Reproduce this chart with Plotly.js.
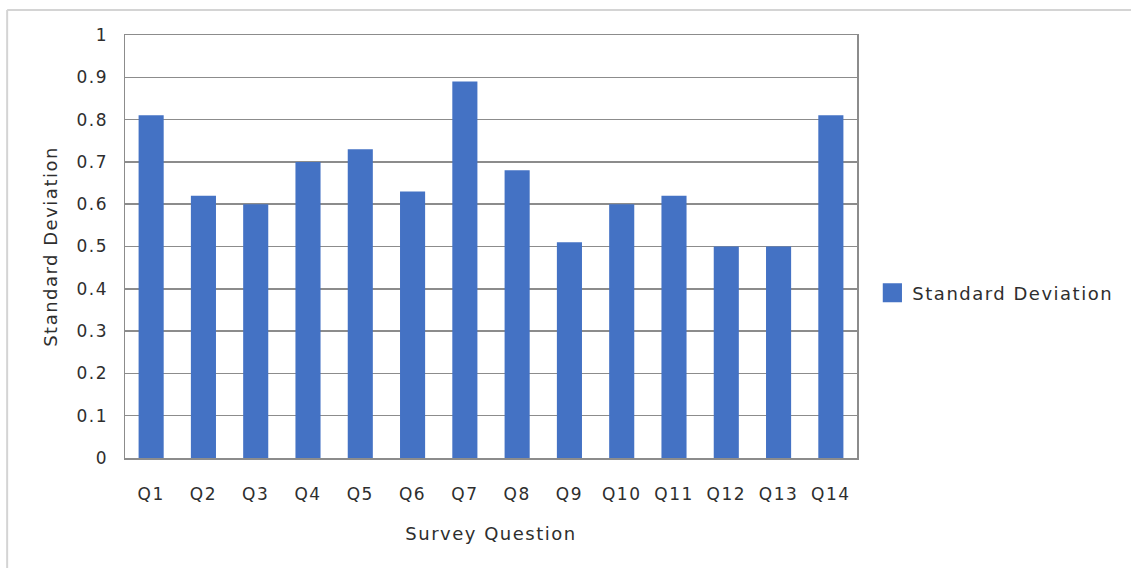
<!DOCTYPE html>
<html>
<head>
<meta charset="utf-8">
<script src="https://cdn.plot.ly/plotly-3.0.1.min.js"></script>
<style>
  html, body { margin: 0; padding: 0; background: #ffffff; }
  #chart { width: 1131px; height: 568px; }
  /* wide, airy lettering for all chart text (also used when text is measured) */
  svg text { letter-spacing: 1.5px; }
  /* larger legend swatch, kept at its slot position */
  #chart .legendpoints path { transform: translate(20px, 0px) scale(1.6); }
</style>
</head>
<body>
<div id="chart"></div>
<script>
// Survey questions and the standard deviation of responses for each
const questions = ["Q1", "Q2", "Q3", "Q4", "Q5", "Q6", "Q7", "Q8", "Q9", "Q10", "Q11", "Q12", "Q13", "Q14"];
const stdDev = [0.81, 0.62, 0.60, 0.70, 0.73, 0.63, 0.89, 0.68, 0.51, 0.60, 0.62, 0.50, 0.50, 0.81];
const yTicks = [0, 0.1, 0.2, 0.3, 0.4, 0.5, 0.6, 0.7, 0.8, 0.9, 1];
const yTickText = ["0", "0.1", "0.2", "0.3", "0.4", "0.5", "0.6", "0.7", "0.8", "0.9", "1"];

const fam = "DejaVu Sans, Noto Sans, sans-serif";
const textColor = "#2e2e2e";
const gridColor = "#8c8c8c";

const data = [{
  type: "bar",
  name: "Standard Deviation",
  x: questions,
  y: stdDev,
  marker: { color: "#4472C4", line: { width: 0 } },
  hoverinfo: "x+y"
}];

const layout = {
  width: 1131,
  height: 568,
  paper_bgcolor: "#ffffff",
  plot_bgcolor: "#ffffff",
  margin: { l: 125, r: 274, t: 35, b: 110, pad: 0 },
  font: { family: fam, size: 17, color: textColor },
  bargap: 0.52,
  showlegend: true,
  legend: {
    x: 1.021, y: 0.39, xanchor: "left", yanchor: "middle",
    font: { family: fam, size: 18, color: textColor },
    itemwidth: 30, tracegroupgap: 0
  },
  xaxis: {
    type: "category",
    showline: true, mirror: true, linecolor: gridColor, linewidth: 1.5,
    showgrid: false, ticks: "", ticklabelstandoff: 20,
    tickfont: { family: fam, size: 17, color: textColor },
    title: { text: "Survey Question", standoff: 24,
             font: { family: fam, size: 18, color: textColor } }
  },
  yaxis: {
    range: [0, 1],
    tickvals: yTicks, ticktext: yTickText,
    showline: true, mirror: true, linecolor: gridColor, linewidth: 1.5,
    showgrid: true, gridcolor: gridColor, gridwidth: 1.5,
    zeroline: false, ticks: "", ticklabelstandoff: 12,
    tickfont: { family: fam, size: 17, color: textColor },
    title: { text: "Standard Deviation", standoff: 14,
             font: { family: fam, size: 18, color: textColor } }
  },
  shapes: [
    // outer chart frame (left and top edges)
    { type: "line", xref: "paper", yref: "paper", x0: -0.161, x1: 1.4, y0: 1.059, y1: 1.059,
      line: { color: "#d4d4d4", width: 2 } },
    { type: "line", xref: "paper", yref: "paper", x0: -0.161, x1: -0.161, y0: 1.059, y1: -0.3,
      line: { color: "#d4d4d4", width: 2 } }
  ]
};

Plotly.newPlot("chart", data, layout, { displayModeBar: false, staticPlot: true });
</script>
</body>
</html>
